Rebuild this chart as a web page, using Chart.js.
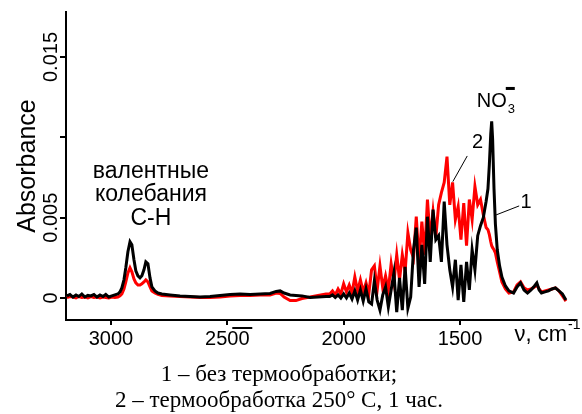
<!DOCTYPE html>
<html>
<head>
<meta charset="utf-8">
<script src="https://cdn.jsdelivr.net/npm/chart.js@4.4.1/dist/chart.umd.min.js"></script>
<style>
  html, body { margin: 0; padding: 0; background: #fff; }
  #wrap { width: 582px; height: 414px; }
</style>
</head>
<body>
<div id="wrap"><canvas id="ir-chart" width="582" height="414"></canvas></div>
<script>
// wavenumbers, cm-1 (x axis runs from high to low)
const wavenumbers = [
    3189, 3176, 3163, 3150, 3138, 3125, 3112, 3099, 3086, 3073, 3060, 3047, 3034, 3022, 3009, 2996, 2983, 2970,
    2961, 2953, 2944, 2936, 2927, 2918, 2910, 2901, 2893, 2884, 2875, 2867, 2858, 2850, 2841, 2832, 2824, 2811, 2798, 2781,
    2746, 2703, 2660, 2617, 2574, 2531, 2488, 2445, 2402, 2359, 2316, 2290, 2273, 2256, 2230, 2205, 2179, 2144, 2110, 2076,
    2060, 2048, 2036, 2024, 2012, 2000, 1988, 1976, 1964, 1952, 1940, 1928, 1916, 1904, 1892, 1880, 1868, 1856, 1844, 1832,
    1820, 1808, 1796, 1784, 1772, 1760, 1748, 1736, 1724, 1712, 1700, 1688, 1676, 1664, 1652, 1640, 1628, 1616, 1604, 1592,
    1580, 1568, 1556, 1544, 1532, 1520, 1508, 1496, 1484, 1472, 1460, 1448, 1436, 1424, 1412, 1400, 1388,
    1380, 1374, 1368, 1364, 1360, 1354, 1348, 1340, 1330, 1320, 1305, 1290, 1270, 1255, 1240, 1225, 1210, 1195, 1180, 1170,
    1160, 1150, 1135, 1120, 1105, 1090, 1075, 1060, 1045
];

// 1 - без термообработки (black)
const absNoTreatment = [
    0.00013, 0.00022, 0.00006, 0.00019, 0.00009, 0.00025, 0.00006, 0.00016, 0.00013, 0.00022, 0.00006, 0.00019, 0.00009, 0.00022, 0.00006, 0.00013, 0.00019, 0.00025,
    0.00038, 0.00063, 0.00113, 0.00188, 0.00288, 0.0035, 0.00331, 0.00238, 0.00169, 0.00138, 0.00125, 0.00138, 0.00175, 0.00225, 0.00213, 0.00125, 0.00069, 0.00044, 0.00031, 0.00025,
    0.00019, 0.00013, 0.00009, 0.00006, 0.00009, 0.00016, 0.00022, 0.00025, 0.00022, 0.00025, 0.00028, 0.00041, 0.00044, 0.00031, 0.00019, 0.00016, 0.00013, 0.00003, 0.00006, 0.00009,
    0.00009, 0.00019, 0.00003, 0.00019, 0, 0.00025, 0, 0.00031, -0.00006, 0.00044, -0.00013, 0.0005, -0.00019, 0.00056, -0.00025, -0.00038, 0.00106, -0.00013, -0.00075, 0.00019,
    0.00069, -0.00056, 0.0005, 0.00156, -0.00088, 0.00125, -0.00075, 0.00194, -0.00063, 0.00006, 0.003, 0.00438, 0.00069, 0.00331, 0.00088, 0.00506, 0.00225, 0.0055, 0.00363, 0.00388,
    0.00225, 0.006, 0.00331, 0.00175, 0.00069, 0.00238, -0.00013, 0.00206, -0.00025, 0.00225, 0.0005, 0.003, 0.00175, 0.00388, 0.0045, 0.005, 0.006,
    0.0068, 0.0083, 0.0102, 0.011, 0.0099, 0.0068, 0.0046, 0.003, 0.002, 0.0013, 0.00075, 0.00044, 0.00031, 0.00069, 0.00094, 0.0005, 0.00031, 0.0005, 0.00075, 0.00094,
    0.0005, 0.00031, 0.00038, 0.00044, 0.00056, 0.00063, 0.00044, 0.00025, -0.00013
];

// 2 - термообработка 250° C, 1 час (red)
const absTreated250 = [
    0.00003, 0.00009, 0.00006, 0, 0.00009, 0.00003, 0.00006, 0, 0.00009, 0.00003, 0.00006, 0, 0.00006, 0.00003, 0, 0.00006, 0.00003, 0.00006,
    0.00013, 0.00025, 0.00056, 0.001, 0.00156, 0.00188, 0.00163, 0.00119, 0.00094, 0.00081, 0.00081, 0.00088, 0.001, 0.00113, 0.001, 0.00069, 0.00044, 0.00031, 0.00022, 0.00016,
    0.00013, 0.00009, 0.00006, 0.00003, 0.00003, 0.00006, 0.00013, 0.00016, 0.00016, 0.00019, 0.00019, 0.00031, 0.00028, 0.00006, -0.00016, -0.00016, -0.00003, 0.00006, 0.00016, 0.00025,
    0.00025, 0.00044, 0.00019, 0.00056, 0.00025, 0.00088, 0.00038, 0.00081, 0.00031, 0.00131, 0.00044, 0.00113, 0.00038, 0.00094, 0.00025, 0.00175, 0.002, 0.0005, 0.002, 0.00063,
    0.00138, 0.0005, 0.00213, 0.001, 0.00269, 0.00113, 0.00269, 0.00163, 0.00406, 0.003, 0.0025, 0.00506, 0.00225, 0.00475, 0.00269, 0.00613, 0.00363, 0.00538, 0.00375, 0.0058,
    0.00656, 0.00719, 0.0088, 0.0058, 0.00719, 0.00488, 0.00569, 0.00363, 0.0059, 0.00325, 0.00613, 0.00488, 0.00694, 0.0058, 0.00613, 0.00519, 0.00438,
    0.00425, 0.00394, 0.0035, 0.00325, 0.00313, 0.003, 0.00281, 0.00225, 0.00163, 0.001, 0.00056, 0.00031, 0.00038, 0.00081, 0.001, 0.00063, 0.0005, 0.00056, 0.00069, 0.00081,
    0.00056, 0.00038, 0.00044, 0.0005, 0.00056, 0.00063, 0.00044, 0.00013, -0.00019
];

const xTickValues = [3000, 2500, 2000, 1500];
const yTickValues = [0, 0.005, 0.01, 0.015];
const yTickLabels = ['0', '0.005', '', '0.015'];
const chLabel = ['валентные', 'колебания', 'C-H'];
const captionLines = ['1 – без термообработки;', '2 – термообработка 250° C, 1 час.'];

const SANS = '"Liberation Sans", Arial, sans-serif';
const SERIF = '"Liberation Serif", "Times New Roman", serif';

function toPoints(values) {
    let pts = [];
    for (let i = 0; i < wavenumbers.length; i++) {
        pts.push({x: wavenumbers[i], y: values[i]});
    }
    return pts;
}

const textPlugin = {
    id: 'spectrumText',
    afterDraw(chart) {
        const ctx = chart.ctx;
        const xs = chart.scales.x;
        const ys = chart.scales.y;
        const area = chart.chartArea;
        const px = v => xs.getPixelForValue(v);
        const py = v => ys.getPixelForValue(v);

        ctx.save();
        ctx.fillStyle = '#000';
        ctx.strokeStyle = '#000';

        // y tick labels, rotated
        ctx.font = '20px ' + SANS;
        ctx.textAlign = 'center';
        ctx.textBaseline = 'alphabetic';
        yTickValues.forEach((v, i) => {
            if (!yTickLabels[i]) return;
            ctx.save();
            ctx.translate(area.left - 9, py(v));
            ctx.rotate(-Math.PI / 2);
            ctx.fillText(yTickLabels[i], 0, 0);
            ctx.restore();
        });

        // y title
        ctx.save();
        ctx.font = '25px ' + SANS;
        ctx.translate(area.left - 31, (area.top + area.bottom) / 2);
        ctx.rotate(-Math.PI / 2);
        ctx.fillText('Absorbance', 0, 0);
        ctx.restore();

        // stray bar over the 2500 label
        ctx.lineWidth = 2;
        ctx.beginPath();
        ctx.moveTo(px(2500) + 5, area.bottom + 8);
        ctx.lineTo(px(2500) + 25, area.bottom + 8);
        ctx.stroke();

        // x axis unit
        ctx.font = '22px ' + SANS;
        ctx.textAlign = 'right';
        ctx.fillText('ν, cm', area.right - 8, area.bottom + 21);
        ctx.font = '14px ' + SANS;
        ctx.textAlign = 'left';
        ctx.fillText('-1', area.right - 7, area.bottom + 9);

        // C-H label
        ctx.font = '23px ' + SANS;
        ctx.textAlign = 'center';
        chLabel.forEach((t, i) => {
            ctx.fillText(t, px(2828), py(0.00747) + i * 23.5);
        });

        // NO3- label
        ctx.font = '20px ' + SANS;
        ctx.textAlign = 'left';
        const nx = px(1428);
        const ny = py(0.01189);
        ctx.fillText('NO', nx, ny);
        const nw = ctx.measureText('NO').width;
        ctx.font = '13px ' + SANS;
        ctx.fillText('3', nx + nw + 1, ny + 6);
        ctx.fillRect(nx + nw - 1, ny - 20, 9, 3);

        // series numbers with leader lines
        ctx.font = '20px ' + SANS;
        ctx.textAlign = 'center';
        ctx.fillText('2', px(1425), py(0.00934));
        ctx.fillText('1', px(1216), py(0.0056));
        ctx.lineWidth = 1;
        ctx.beginPath();
        ctx.moveTo(px(1469), py(0.00884));
        ctx.lineTo(px(1531), py(0.00724));
        ctx.moveTo(px(1246), py(0.00573));
        ctx.lineTo(px(1345), py(0.00517));
        ctx.stroke();

        // caption
        ctx.font = '23px ' + SERIF;
        ctx.textAlign = 'center';
        ctx.fillText(captionLines[0], 279, 381);
        ctx.fillText(captionLines[1], 279, 407);

        ctx.restore();
    }
};

function drawChart() {
    const ctx = document.getElementById('ir-chart');
    const config = {
        type: 'line',
        data: {
            datasets: [{
                label: '1',
                data: toPoints(absNoTreatment),
                borderColor: '#000000',
                borderWidth: 3,
                pointRadius: 0,
                tension: 0
            }, {
                label: '2',
                data: toPoints(absTreated250),
                borderColor: '#ff0000',
                borderWidth: 3,
                pointRadius: 0,
                tension: 0
            }]
        },
        options: {
            responsive: false,
            animation: false,
            devicePixelRatio: 1,
            layout: { padding: { left: 0, right: 7, top: 12, bottom: 0 } },
            plugins: { legend: { display: false }, tooltip: { enabled: false } },
            scales: {
                x: {
                    type: 'linear',
                    reverse: true,
                    min: 1006,
                    max: 3193,
                    afterBuildTicks: s => { s.ticks = xTickValues.map(v => ({value: v})); },
                    afterFit: s => { s.height = 94; },
                    ticks: {
                        color: '#000',
                        font: { family: SANS, size: 20 },
                        padding: 2,
                        maxRotation: 0,
                        callback: v => String(v)
                    },
                    grid: { drawOnChartArea: false, drawTicks: true, tickLength: 5, color: '#000', lineWidth: 2 },
                    border: { display: true, color: '#000', width: 2 }
                },
                y: {
                    type: 'linear',
                    min: -0.00137,
                    max: 0.0178,
                    afterBuildTicks: s => { s.ticks = yTickValues.map(v => ({value: v})); },
                    afterFit: s => { s.width = 66; },
                    ticks: { display: false },
                    grid: { drawOnChartArea: false, drawTicks: true, tickLength: 6, color: '#000', lineWidth: 2 },
                    border: { display: true, color: '#000', width: 2 }
                }
            }
        },
        plugins: [textPlugin]
    };
    new Chart(ctx, config);
}

drawChart();
</script>
</body>
</html>
